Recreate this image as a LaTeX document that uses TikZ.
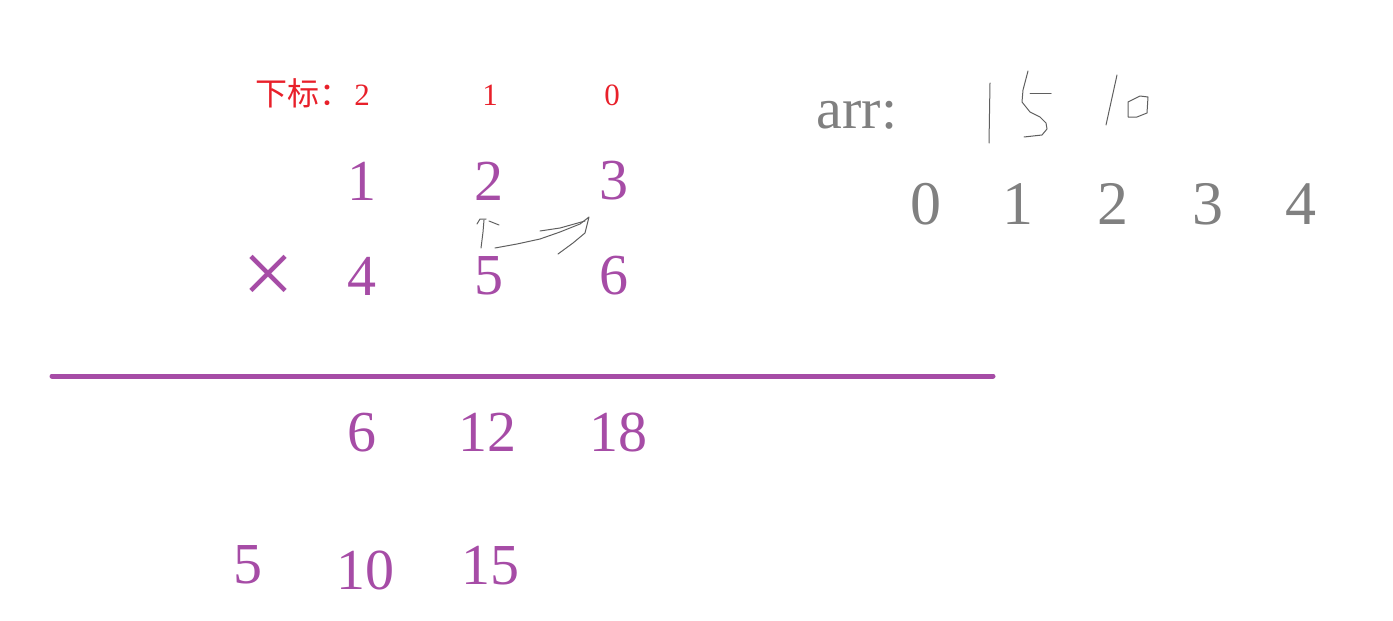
\documentclass[tikz,border=0pt]{standalone}
\usepackage{fontspec}
\setmainfont{Liberation Serif}
\newfontfamily\cjk{Noto Sans CJK SC}
\usetikzlibrary{positioning}
\definecolor{numpurple}{RGB}{166,76,166}
\definecolor{idxred}{RGB}{232,32,42}
\definecolor{arrgray}{RGB}{128,128,128}
\definecolor{inkgray}{RGB}{95,95,95}

\begin{document}
\begin{tikzpicture}[
x=1pt,y=-1pt,
num/.style={inner sep=0pt,text=numpurple,font=\fontsize{58}{58}\selectfont},
idx/.style={inner sep=0pt,text=idxred,font=\fontsize{31}{31}\selectfont},
cell/.style={inner sep=0pt,text=arrgray,font=\fontsize{62}{62}\selectfont},
ink/.style={draw=inkgray,line width=1pt,line cap=round,line join=round},
bar/.style={draw=numpurple,line width=5pt,line cap=round}]
\useasboundingbox (0,0) rectangle (1393,621);
% index row
\node[idx] (i2) at (362,95) {2};
\node[idx,anchor=base east,font=\cjk\fontsize{32}{32}\selectfont] (lbl) at ([xshift=-2pt]i2.base west) {下标：};
\node[idx] (i1) at (490,95) {1};
\node[idx] (i0) at (612,95) {0};
% factors
\node[num] (a2) at (362,181) {1};
\node[num] (a1) at (489,181) {2};
\node[num] (a0) at (614,181) {3};
\node[num,font=\fontsize{92}{92}\selectfont] (times) at (268,280) {×};
\node[num] (b2) at (362,276) {4};
\node[num] (b1) at (489,276) {5};
\node[num] (b0) at (614,276) {6};
\coordinate (barl) at (52,376);
\coordinate (barr) at (993,376);
\draw[bar] (barl) -- (barr);
% partial products
\node[num] (p2) at (362,433) {6};
\node[num] (p1) at (487,432) {12};
\node[num] (p0) at (618,432) {18};
\node[num] (q2) at (248,565) {5};
\node[num] (q1) at (365,570) {10};
\node[num] (q0) at (490,566) {15};
% array
\node[inner sep=0pt,text=arrgray,font=\fontsize{58}{58}\selectfont] (arr) at (857,115) {arr:};
\foreach \k/\x in {0/926,1/1018,2/1113,3/1208,4/1301}
  \node[cell] (c\k) at (\x,204) {\k};
% handwriting
\draw[ink] (477,224) -- (480,219) -- (486,219);
\draw[ink] (484,220) -- (483,232) -- (481,248);
\draw[ink] (489,221) -- (499,225);
\draw[ink] (495,248) -- (517,244) -- (540,239) -- (560,232) -- (580,224) -- (589,217)
  -- (585,233) -- (573,243) -- (558,254);
\draw[ink] (540,231) -- (560,228) -- (585,221);
\draw[ink] (990,83) -- (989,143);
\draw[ink] (1030,93) -- (1051,93);
\draw[ink] (1028,71) -- (1023,90) -- (1022,102) -- (1030,112) -- (1040,117) -- (1046,123)
  -- (1047,129) -- (1042,135) -- (1024,137);
\draw[ink] (1117,75) -- (1106,125);
\draw[ink] (1128,102) -- (1140,96) -- (1148,97) -- (1147,113) -- (1137,117) -- (1128,117) -- cycle;
\end{tikzpicture}
\end{document}
